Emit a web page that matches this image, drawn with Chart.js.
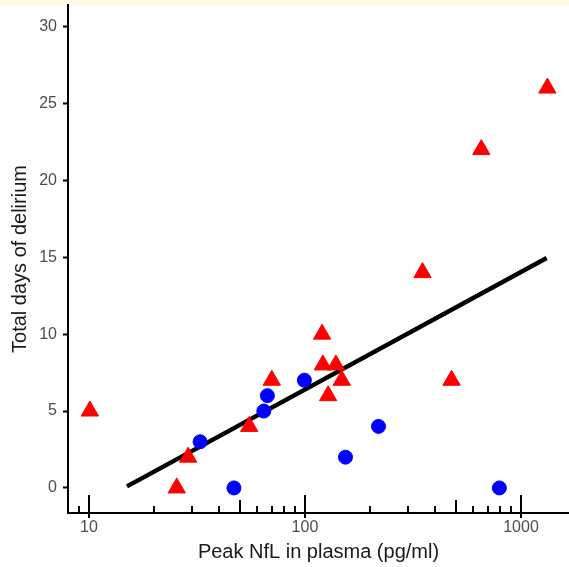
<!DOCTYPE html>
<html lang="en">
<head>
<meta charset="UTF-8">
<title>Peak NfL vs total days of delirium</title>
<script src="https://cdn.jsdelivr.net/npm/chart.js"></script>
<style>
  body { margin: 0; background: #fff; }
  .chart-box {
    width: 569px; height: 567px;
    background: linear-gradient(to bottom, #fff8e4 0, #fff8e4 5px, #fff 5px);
  }
</style>
</head>
<body>
<div class="chart-box"><canvas id="nflChart" width="569" height="567"></canvas></div>
<script>
// red triangles
const triNfl = [10.1, 25.5, 28.8, 55.2, 70.2, 120, 121, 128, 139, 148, 350, 477, 655, 1325];
const triDays = [5, 0, 2, 4, 7, 10, 8, 6, 8, 7, 14, 7, 22, 26];

// blue circles
const dotNfl = [32.7, 46.9, 64.5, 67, 99.4, 154, 219, 794];
const dotDays = [3, 0, 5, 6, 7, 2, 4, 0];

// regression line ends
const fitNfl = [15, 1315];
const fitDays = [0.1, 14.95];

// axis ticks
const yTicks = [0, 5, 10, 15, 20, 25, 30];
const xTicks = [10, 100, 1000];
const xMinorTicks = [9, 20, 30, 40, 50, 60, 70, 80, 90, 200, 300, 400, 500, 600, 700, 800, 900];
const xMidTicks = [50, 500];

const fontFamily = '"Liberation Sans", Arial, sans-serif';
const toPoints = (xs, ys) => xs.map((v, i) => ({ x: v, y: ys[i] }));

// ggplot-style log ticks on the x axis
const logTicks = {
    id: 'logTicks',
    beforeDatasetsDraw(chart) {
        const { ctx, chartArea, scales: { x } } = chart;
        const base = chartArea.bottom;
        ctx.save();
        ctx.strokeStyle = '#000';
        ctx.lineWidth = 2;
        ctx.beginPath();
        xMinorTicks.forEach(v => {
            const px = Math.round(x.getPixelForValue(v));
            const len = xMidTicks.includes(v) ? 13 : 7;
            ctx.moveTo(px, base);
            ctx.lineTo(px, base - len);
        });
        xTicks.forEach(v => {
            const px = Math.round(x.getPixelForValue(v));
            ctx.moveTo(px, base + 5);
            ctx.lineTo(px, base - 18);
        });
        ctx.stroke();
        ctx.restore();
    }
};

const ctx = document.getElementById('nflChart').getContext('2d');
new Chart(ctx, {
    type: 'scatter',
    data: {
        datasets: [
            {
                data: toPoints(triNfl, triDays),
                pointStyle: 'triangle',
                pointRadius: 10,
                backgroundColor: '#ff0000',
                borderColor: '#ff0000',
                borderWidth: 1
            },
            {
                data: toPoints(dotNfl, dotDays),
                pointStyle: 'circle',
                pointRadius: 7,
                backgroundColor: '#0000ff',
                borderColor: '#0000ff',
                borderWidth: 1
            },
            {
                data: toPoints(fitNfl, fitDays),
                showLine: true,
                pointRadius: 0,
                borderColor: '#000',
                borderWidth: 4.5
            }
        ]
    },
    options: {
        responsive: false,
        animation: false,
        devicePixelRatio: 1,
        layout: { autoPadding: false, padding: { top: 5, right: 0, bottom: 0, left: 0 } },
        plugins: { legend: { display: false }, tooltip: { enabled: false } },
        scales: {
            x: {
                type: 'logarithmic',
                min: 8,
                max: 1668,
                afterBuildTicks: s => { s.ticks = xTicks.map(v => ({ value: v })); },
                afterFit: s => {
                    s.height = 54;
                    s.paddingLeft = 0;
                    s.paddingRight = 0;
                },
                grid: { display: false, drawTicks: false },
                border: { display: true, color: '#000', width: 2 },
                ticks: {
                    color: '#4d4d4d',
                    font: { size: 16, family: fontFamily },
                    padding: 5,
                    autoSkip: false,
                    maxRotation: 0,
                    callback: v => String(v)
                },
                title: {
                    display: true,
                    text: 'Peak NfL in plasma (pg/ml)',
                    color: '#1a1a1a',
                    font: { size: 20, family: fontFamily },
                    padding: { top: 0, bottom: 3 }
                }
            },
            y: {
                min: -1.63,
                max: 31.4,
                afterBuildTicks: s => { s.ticks = yTicks.map(v => ({ value: v })); },
                afterFit: s => {
                    s.width = 68;
                    s.paddingTop = 0;
                    s.paddingBottom = 0;
                },
                grid: {
                    display: true,
                    drawOnChartArea: false,
                    drawTicks: true,
                    tickLength: 5,
                    tickColor: '#000',
                    tickWidth: 2
                },
                border: { display: true, color: '#000', width: 2 },
                ticks: {
                    color: '#4d4d4d',
                    font: { size: 16, family: fontFamily },
                    padding: 6,
                    callback: v => String(v)
                },
                title: {
                    display: true,
                    text: 'Total days of delirium',
                    color: '#1a1a1a',
                    font: { size: 20, family: fontFamily },
                    padding: { top: 8, bottom: 0 }
                }
            }
        }
    },
    plugins: [logTicks]
});
</script>
</body>
</html>
